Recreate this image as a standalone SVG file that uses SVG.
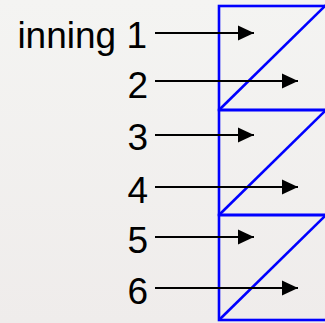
<svg xmlns="http://www.w3.org/2000/svg" width="325" height="323" viewBox="0 0 325 323">
<defs>
<marker id="ah" markerWidth="16" markerHeight="16" refX="16" refY="8" orient="auto" markerUnits="userSpaceOnUse">
<path d="M0,0.5 L16,8 L0,15.5 Z" fill="#000"/>
</marker>
<linearGradient id="bg" x1="0" y1="0" x2="0" y2="1">
<stop offset="0" stop-color="#f4f4f2"/>
<stop offset="1" stop-color="#efeceb"/>
</linearGradient>
</defs>
<style>
.lbl{font-family:"Liberation Sans",Arial,sans-serif;font-size:37px;fill:#000;text-anchor:end}
.box{fill:none;stroke:#0000ff;stroke-width:2.6}
.arr{stroke:#000;stroke-width:2;fill:none;marker-end:url(#ah)}
</style>
<rect x="0" y="0" width="325" height="323" fill="url(#bg)"/>
<g id="boxes">
<g id="box1"><rect class="box" x="219" y="6" width="120" height="104"/><line class="box" x1="219" y1="110" x2="326" y2="5"/></g>
<g id="box2"><rect class="box" x="219" y="110" width="120" height="105"/><line class="box" x1="219" y1="215" x2="326" y2="110"/></g>
<g id="box3"><rect class="box" x="219" y="215" width="120" height="105"/><line class="box" x1="219" y1="320" x2="326" y2="215"/></g>
</g>
<g id="labels">
<g id="l1"><text class="lbl" x="147" y="48">inning 1</text></g>
<g id="l2"><text class="lbl" x="148" y="98">2</text></g>
<g id="l3"><text class="lbl" x="148" y="150">3</text></g>
<g id="l4"><text class="lbl" x="148" y="203">4</text></g>
<g id="l5"><text class="lbl" x="148" y="253">5</text></g>
<g id="l6"><text class="lbl" x="148" y="304">6</text></g>
</g>
<g id="connectors">
<line class="arr" x1="155" y1="33" x2="254" y2="33"/>
<line class="arr" x1="155" y1="81" x2="298" y2="81"/>
<line class="arr" x1="155" y1="135" x2="254" y2="135"/>
<line class="arr" x1="155" y1="187" x2="298" y2="187"/>
<line class="arr" x1="155" y1="237" x2="254" y2="237"/>
<line class="arr" x1="155" y1="288" x2="298" y2="288"/>
</g>
</svg>
